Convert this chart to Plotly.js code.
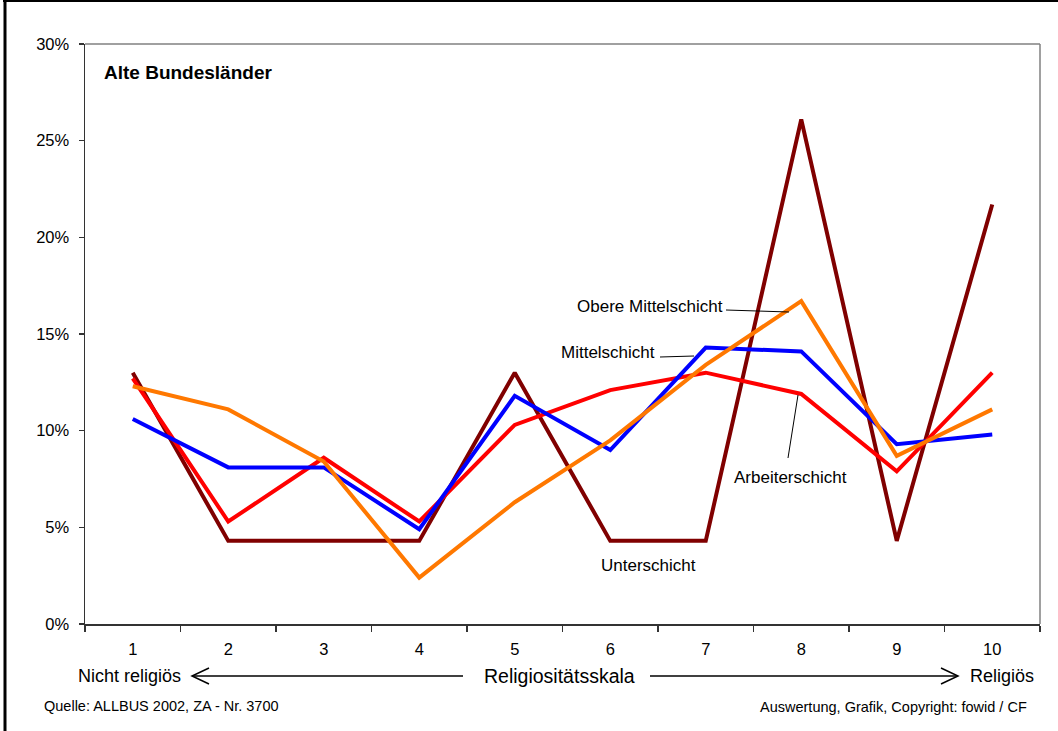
<!DOCTYPE html>
<html>
<head>
<meta charset="utf-8">
<script src="https://cdn.plot.ly/plotly-3.0.1.min.js"></script>
<style>
html,body{margin:0;padding:0;background:#fff;}
#chart{width:1058px;height:731px;}
</style>
</head>
<body>
<div id="chart"></div>
<script>
// ---- data ----
const categories = ['1','2','3','4','5','6','7','8','9','10'];
const unterschicht = [13.0, 4.3, 4.3, 4.3, 13.0, 4.3, 4.3, 26.1, 4.3, 21.7];
const arbeiterschicht = [12.7, 5.3, 8.6, 5.3, 10.3, 12.1, 13.0, 11.9, 7.9, 13.0];
const mittelschicht = [10.6, 8.1, 8.1, 4.9, 11.8, 9.0, 14.3, 14.1, 9.3, 9.8];
const obereMittelschicht = [12.3, 11.1, 8.4, 2.4, 6.3, 9.5, 13.4, 16.7, 8.7, 11.1];
const yTickVals = [0, 5, 10, 15, 20, 25, 30];
const yTickText = ['0%', '5%', '10%', '15%', '20%', '25%', '30%'];

const FONT = 'Liberation Sans, Arial, sans-serif';

// pixel -> paper helpers (plot area: x 85..1040, y 44..624)
const L = 85, R = 1040, T = 44, B = 624;
const X = px => (px - L) / (R - L);
const Y = py => (B - py) / (B - T);

function trace(name, vals, color) {
  return {
    type: 'scatter', mode: 'lines', name: name,
    x: categories, y: vals,
    line: {color: color, width: 4, shape: 'linear'},
    hoverinfo: 'name+y'
  };
}

const data = [
  trace('Unterschicht', unterschicht, '#800000'),
  trace('Arbeiterschicht', arbeiterschicht, '#FF0000'),
  trace('Mittelschicht', mittelschicht, '#0000FF'),
  trace('Obere Mittelschicht', obereMittelschicht, '#FF7800')
];

function txt(text, px, py, size, anchor, bold) {
  return {
    xref: 'paper', yref: 'paper', x: X(px), y: Y(py),
    xanchor: anchor || 'center', yanchor: 'middle',
    text: bold ? '<b>' + text + '</b>' : text,
    showarrow: false,
    font: {family: FONT, size: size, color: '#000'}
  };
}

function seg(x0, y0, x1, y1, color, width) {
  return {type: 'line', xref: 'paper', yref: 'paper',
    x0: X(x0), y0: Y(y0), x1: X(x1), y1: Y(y1),
    line: {color: color, width: width}};
}
function poly(pts, color, width) {
  let p = 'M' + pts.map(q => X(q[0]) + ',' + Y(q[1])).join(' L');
  return {type: 'path', xref: 'paper', yref: 'paper', path: p,
    line: {color: color, width: width}};
}

const annotations = [
  txt('Alte Bundesländer', 102, 72, 19, 'left', true),
  txt('Obere Mittelschicht', 650, 306, 17),
  txt('Mittelschicht', 608, 352, 17),
  txt('Arbeiterschicht', 790, 477, 17),
  txt('Unterschicht', 648, 565, 17),
  txt('Nicht religiös', 183, 676, 18, 'right'),
  txt('Religiositätsskala', 559, 676, 19.5),
  txt('Religiös', 968, 676, 18, 'left'),
  txt('Quelle: ALLBUS 2002, ZA - Nr. 3700', 42, 706, 14.5, 'left'),
  txt('Auswertung, Grafik, Copyright: fowid / CF', 1029, 707, 14.5, 'right')
];

const shapes = [
  // plot frame top & right (grey)
  seg(L, T, R, T, '#808080', 1.5),
  seg(R, T, R, B, '#808080', 1.5),
  // leader lines
  seg(726, 310, 789, 312, '#000', 1),
  seg(660, 357, 694, 356, '#000', 1),
  seg(798, 395, 788, 458, '#000', 1),
  // arrows
  seg(193, 676, 463, 676, '#000', 1.5),
  poly([[209, 668], [192, 676], [209, 684]], '#000', 1.5),
  seg(650, 676, 957, 676, '#000', 1.5),
  poly([[941, 668], [958, 676], [941, 684]], '#000', 1.5),
  // outer frame (left & top)
  seg(5, 1, 5, 735, '#000', 3),
  seg(3, 1, 1065, 1, '#000', 2)
];

const layout = {
  width: 1058, height: 731,
  margin: {l: L, r: 1058 - R, t: T, b: 731 - B, pad: 0},
  paper_bgcolor: '#fff', plot_bgcolor: '#fff',
  showlegend: false,
  font: {family: FONT, size: 16, color: '#000'},
  xaxis: {
    type: 'category', categoryorder: 'array', categoryarray: categories,
    range: [-0.5, 9.5], fixedrange: true,
    tickson: 'boundaries', ticks: 'outside', ticklen: 6, tickwidth: 1.3, tickcolor: '#333',
    showline: true, linecolor: '#333', linewidth: 1.5,
    showgrid: false, zeroline: false,
    ticklabelstandoff: 10,
    tickfont: {family: FONT, size: 16.5, color: '#000'}
  },
  yaxis: {
    range: [0, 30], fixedrange: true,
    tickmode: 'array', tickvals: yTickVals, ticktext: yTickText,
    ticks: 'outside', ticklen: 5, tickwidth: 1.3, tickcolor: '#333',
    showline: true, linecolor: '#333', linewidth: 1.5,
    showgrid: false, zeroline: false,
    ticklabelstandoff: 6,
    tickfont: {family: FONT, size: 16.5, color: '#000'}
  },
  annotations: annotations,
  shapes: shapes
};

Plotly.newPlot('chart', data, layout, {displayModeBar: false, staticPlot: true});
</script>
</body>
</html>
